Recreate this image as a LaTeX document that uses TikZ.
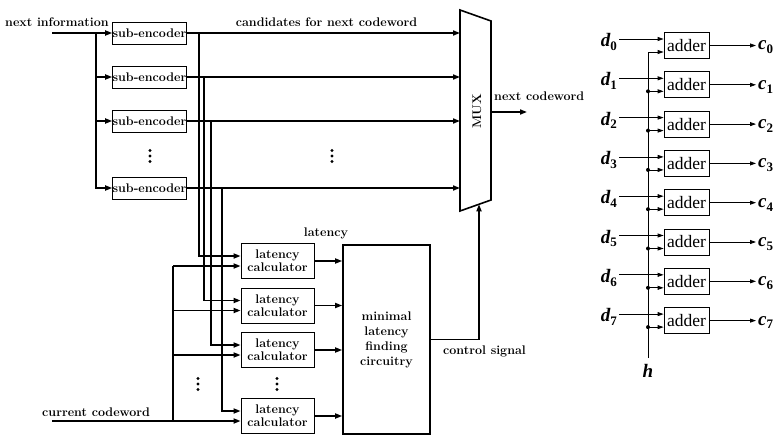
\documentclass[tikz,border=0pt]{standalone}
\usepackage{fontspec}
\usepackage{amsmath}
\usetikzlibrary{arrows.meta}
\newfontfamily\timesfont{Liberation Serif}
\newcommand{\symSub}[2]{#1\raisebox{-0.2em}{\fontsize{13}{13}\selectfont\upshape #2}}
\tikzset{
  lbl/.style={font=\fontsize{12.5}{13}\selectfont\bfseries, inner sep=0pt},
  encbox/.style={draw, line width=0.8pt, minimum width=73pt, minimum height=22pt, inner sep=0pt, lbl},
  latbox/.style={draw, line width=0.8pt, minimum width=73pt, minimum height=35pt, inner sep=0pt, align=center, lbl},
  bus/.style={line width=1.6pt},
  wire/.style={bus, -{Triangle[length=7pt,width=5pt]}},
  addbox/.style={draw, line width=0.8pt, minimum width=45pt, minimum height=26pt, inner sep=0pt, font=\timesfont\fontsize{17.5}{17.5}\selectfont},
  sig/.style={line width=0.8pt, -{Triangle[length=6pt,width=4pt]}},
  sym/.style={font=\timesfont\fontsize{19}{19}\selectfont\bfseries\itshape, inner xsep=2pt, inner ysep=0pt},
}
\begin{document}
\begin{tikzpicture}[x=1pt,y=-1pt]
\useasboundingbox (0,0) rectangle (774,436);
\foreach \i/\y in {1/33,2/77,3/121,4/188}
  \node[encbox] (se\i) at (149.5,\y) {sub-encoder};
\node[lbl, anchor=base west] (nxtinfo) at (5,27) {next information};
\coordinate (infoin) at (52,33);
\coordinate (split) at (96,33);
\draw[wire] (infoin) -- (se1.west);
\foreach \i in {2,3,4}
  \draw[wire] (split) |- (se\i.west);
\coordinate (mA) at (460,10);
\coordinate (mB) at (491,21);
\coordinate (mC) at (491,200);
\coordinate (mD) at (460,211);
\draw[bus, line join=miter] (mA) -- (mB) -- (mC) -- (mD) -- cycle;
\node[lbl, rotate=90] (mux) at (477,111) {MUX};
\foreach \i in {1,...,4}
  \draw[wire] (se\i.east) -- (se\i.east -| mA);
\node[lbl, anchor=base] (cand) at (326.5,27) {candidates for next codeword};
\foreach \i/\x in {1/199,2/204,3/211,4/222}
  \coordinate (tap\i) at (\x,0);
\foreach \i/\y in {1/261,2/305.5,3/350,4/416}
  \node[latbox] (lc\i) at (277.5,\y) {latency\\calculator};
\foreach \i in {1,...,4}
  \draw[wire] (se\i.east -| tap\i) |- ([yshift=5pt]lc\i.west);
\node[lbl, anchor=base west] (curcw) at (42,416) {current codeword};
\coordinate (cwin) at (52,0);
\coordinate (cwbus) at (173,0);
\draw[wire] ([yshift=-5pt]lc4.west -| cwin) -- ([yshift=-5pt]lc4.west);
\draw[bus] ([yshift=-5pt]lc4.west -| cwbus) -- ([yshift=-5pt]lc1.west -| cwbus);
\foreach \i in {1,2,3}
  \draw[wire] ([yshift=-5pt]lc\i.west -| cwbus) -- ([yshift=-5pt]lc\i.west);
\node[draw, line width=1.6pt, minimum width=87pt, minimum height=189pt, inner sep=0pt, align=center, font=\fontsize{12.5}{15}\selectfont\bfseries] (mlf) at (386.5,339.5) {minimal\\latency\\finding\\circuitry};
\foreach \i in {1,...,4}
  \draw[wire] (lc\i.east) -- (lc\i.east -| mlf.west);
\node[lbl, anchor=base] (latlbl) at (326,236) {latency};
\coordinate (muxsel) at (479,204.3);
\draw[wire] (mlf.east) -| (muxsel);
\node[lbl, anchor=base west] (ctrl) at (443,354) {control signal};
\coordinate (cwout) at (527,112);
\draw[wire] (cwout -| mB) -- (cwout);
\node[lbl, anchor=base west] (nxtcw) at (494,100) {next codeword};
\foreach \x/\y in {150/156,332/156,198/384,277/384}
  \foreach \k in {-5.5,0,5.5}
    \fill (\x,\y+\k) circle (1.7pt);
\coordinate (hbot) at (648,358);
\foreach \i in {0,...,7} {
  \pgfmathsetmacro\yy{45.5+39.3*\i}
  \node[addbox] (ad\i) at (686.5,\yy) {adder};
  \node[sym, anchor=base east] (d\i) at (619,\yy+1) {\symSub{d}{\i}};
  \node[sym, anchor=base west] (c\i) at (756,\yy+4.5) {\symSub{c}{\i}};
  \draw[sig] ([yshift=6.5pt]ad\i.west -| d\i.east) -- ([yshift=6.5pt]ad\i.west);
  \draw[sig] (ad\i.east) -- (ad\i.east -| c\i.west);
}
\draw[sig] (hbot) |- ([yshift=-6.5pt]ad0.west);
\foreach \i in {1,...,7} {
  \draw[sig] ([yshift=-6.5pt]ad\i.west -| hbot) -- ([yshift=-6.5pt]ad\i.west);
  \fill ([yshift=-6.5pt]ad\i.west -| hbot) circle (2pt);
}
\node[sym, anchor=north] (hlbl) at ([yshift=-6pt]hbot) {h};
\end{tikzpicture}
\end{document}
